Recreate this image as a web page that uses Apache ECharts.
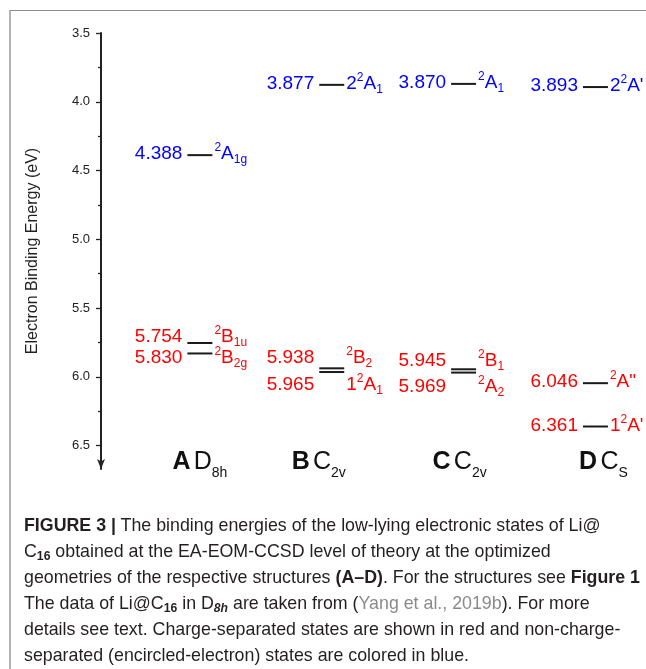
<!DOCTYPE html>
<html>
<head>
<meta charset="utf-8">
<title>Li@C16 binding energies</title>
<script src="https://cdn.jsdelivr.net/npm/echarts@6/dist/echarts.min.js"></script>
<style>
  html, body { margin: 0; padding: 0; background: #fff; }
  .page { position: relative; width: 646px; height: 669px; overflow: hidden; }
  .frame {
    position: absolute; left: 9px; top: 10px; right: -5px; bottom: -5px;
    border-left: 2px solid #b4b4b4; border-top: 1px solid #8c8c8c;
  }
  #chart { position: absolute; left: 0; top: 0; width: 646px; height: 669px; }
  .caption {
    position: absolute; left: 24px; top: 512px;
    font-family: "Liberation Sans", Arial, sans-serif; font-size: 19px; line-height: 26px;
    color: #231f20; white-space: nowrap; transform-origin: 0 0;
  }
  .caption > div { display: block; }
  .caption sub { font-size: 13px; vertical-align: -3px; line-height: 0; }
  .caption .ref { color: #8a8a8a; }
</style>
</head>
<body>
<div class="page">
  <div class="frame"></div>
  <div id="chart"></div>
  <div class="caption" id="caption">
    <div><b>FIGURE 3</b> <b>|</b> The binding energies of the low-lying electronic states of Li@</div>
    <div>C<sub><b>16</b></sub> obtained at the EA-EOM-CCSD level of theory at the optimized</div>
    <div id="capWide">geometries of the respective structures <b>(A–D)</b>. For the structures see <b>Figure 1</b></div>
    <div>The data of Li@C<sub><b>16</b></sub> in D<sub><b><i>8h</i></b></sub> are taken from (<span class="ref">Yang et al., 2019b</span>). For more</div>
    <div>details see text. Charge-separated states are shown in red and non-charge-</div>
    <div>separated (encircled-electron) states are colored in blue.</div>
  </div>
</div>
<script>
// structures and their point groups
const columns = ['A', 'B', 'C', 'D'];
const pointGroups = ['D', 'C', 'C', 'C'];
const pointGroupSubs = ['8h', '2v', '2v', 'S'];

// non-charge-separated (blue) states, eV
const blueEnergies = [4.388, 3.877, 3.870, 3.893];
// [prefix, superscript, letter, subscript]
const blueStates = [['', '2', 'A', '1g'], ['2', '2', 'A', '1'], ['', '2', 'A', '1'], ['2', '2', "A'", '']];

// charge-separated (red) states, eV
const redUpperEnergies = [5.754, 5.938, 5.945, 6.046];
const redUpperStates = [['', '2', 'B', '1u'], ['', '2', 'B', '2'], ['', '2', 'B', '1'], ['', '2', 'A"', '']];
const redLowerEnergies = [5.830, 5.965, 5.969, 6.361];
const redLowerStates = [['', '2', 'B', '2g'], ['1', '2', 'A', '1'], ['', '2', 'A', '2'], ['1', '2', "A'", '']];

const majorTicks = [3.5, 4.0, 4.5, 5.0, 5.5, 6.0, 6.5];
const minorTicks = [3.75, 4.25, 4.75, 5.25, 5.75, 6.25];

// label spreading for the close pairs (px, upper / lower)
const pairShift = [[-5, 5], [-10, 14], [-8, 15], [0, 0]];
const structShift = [0, -13, -4, 8];

const BLUE = '#0000ff';
const RED = '#ff0000';
const FONT = '"Liberation Sans", Arial, sans-serif';
const HALF = 12.5;

const levels = [];
columns.forEach((c, i) => {
  levels.push({ value: [i, blueEnergies[i]], color: BLUE, state: blueStates[i], shift: 0 });
  levels.push({ value: [i, redUpperEnergies[i]], color: RED, state: redUpperStates[i], shift: pairShift[i][0] });
  levels.push({ value: [i, redLowerEnergies[i]], color: RED, state: redLowerStates[i], shift: pairShift[i][1] });
});

function stateText(s) {
  return (s[0] ? '{n|' + s[0] + '}' : '') + '{sup|' + s[1] + '}{n|' + s[2] + '}' + (s[3] ? '{sub|' + s[3] + '}' : '');
}

function stateRich(color) {
  return {
    n: { fontSize: 19, lineHeight: 24, fontFamily: FONT, fill: color },
    sup: { fontSize: 12, lineHeight: 12, verticalAlign: 'top', fontFamily: FONT, fill: color },
    sub: { fontSize: 12, lineHeight: 16, verticalAlign: 'bottom', fontFamily: FONT, fill: color }
  };
}

const chart = echarts.init(document.getElementById('chart'));
chart.setOption({
  animation: false,
  grid: { left: 101, right: 11, top: 33, bottom: 200 },
  xAxis: { type: 'value', min: -0.75, max: 3.3, show: false },
  yAxis: [
    {
      type: 'value', inverse: true, min: 3.5, max: 6.67, position: 'left',
      name: 'Electron Binding Energy (eV)', nameLocation: 'middle', nameGap: 60,
      nameTextStyle: { fontSize: 16, color: '#222', fontFamily: FONT },
      axisLine: { show: true, onZero: false, lineStyle: { color: '#222', width: 2 }, symbol: ['arrow', 'none'], symbolSize: [6, 10] },
      axisTick: { show: true, customValues: majorTicks, length: 5, lineStyle: { color: '#222', width: 1.3 } },
      axisLabel: { customValues: majorTicks, formatter: v => v.toFixed(1), margin: 11, fontSize: 13, color: '#222', fontFamily: FONT },
      splitLine: { show: false }
    },
    {
      type: 'value', inverse: true, min: 3.5, max: 6.67, position: 'left',
      axisLine: { show: false, onZero: false },
      axisTick: { show: true, customValues: minorTicks, length: 3, lineStyle: { color: '#222', width: 1.3 } },
      axisLabel: { show: false },
      splitLine: { show: false }
    }
  ],
  series: [
    {
      name: 'levels',
      type: 'custom',
      clip: false,
      data: levels.map(d => d.value),
      renderItem: function (params, api) {
        const d = levels[params.dataIndex];
        const p = api.coord([api.value(0), api.value(1)]);
        const ty = p[1] + d.shift - 1;
        return {
          type: 'group',
          children: [
            { type: 'line', shape: { x1: p[0] - HALF, y1: p[1], x2: p[0] + HALF, y2: p[1] }, style: { stroke: '#1a1a1a', lineWidth: 2 } },
            { type: 'text', x: p[0] - HALF - 5, y: ty, style: { text: api.value(1).toFixed(3), fill: d.color, fontSize: 19, fontFamily: FONT, align: 'right', verticalAlign: 'middle' } },
            { type: 'text', x: p[0] + HALF + 2, y: ty, style: { text: stateText(d.state), rich: stateRich(d.color), fill: d.color, align: 'left', verticalAlign: 'middle' } }
          ]
        };
      }
    },
    {
      name: 'structures',
      type: 'custom',
      clip: false,
      data: columns.map((c, i) => [i, 6.5]),
      renderItem: function (params, api) {
        const i = params.dataIndex;
        const p = api.coord([api.value(0), api.value(1)]);
        return {
          type: 'text', x: p[0] + structShift[i], y: p[1] + 16,
          style: {
            text: '{b|' + columns[i] + '} {r|' + pointGroups[i] + '}{s|' + pointGroupSubs[i] + '}',
            align: 'center', verticalAlign: 'middle',
            rich: {
              b: { fontSize: 25, fontWeight: 'bold', lineHeight: 38, fontFamily: FONT, fill: '#111' },
              r: { fontSize: 25, lineHeight: 38, fontFamily: FONT, fill: '#111' },
              s: { fontSize: 14, lineHeight: 14, verticalAlign: 'bottom', fontFamily: FONT, fill: '#111' }
            }
          }
        };
      }
    }
  ]
});

// squeeze the caption to the width of the printed (condensed) text
const cap = document.getElementById('caption');
const wide = document.getElementById('capWide');
wide.style.display = 'inline-block';
const k = 616 / wide.getBoundingClientRect().width;
wide.style.display = 'block';
cap.style.transform = 'scaleX(' + k.toFixed(4) + ')';
</script>
</body>
</html>
